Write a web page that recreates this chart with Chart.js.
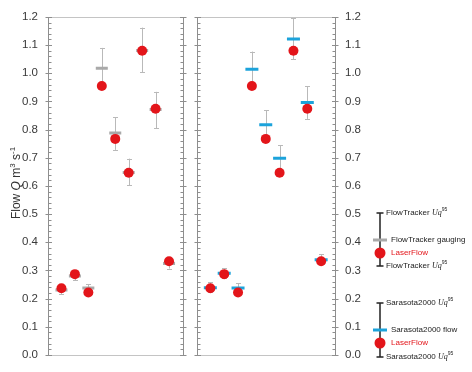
<!DOCTYPE html>
<html><head><meta charset="utf-8">
<script src="https://cdn.jsdelivr.net/npm/chart.js@4.4.0/dist/chart.umd.min.js"></script>
<style>
html,body{margin:0;padding:0;background:#fff;}
#wrap{position:relative;width:472px;height:372px;}
canvas{position:absolute;left:0;top:0;}
</style></head><body>
<div id="wrap"><canvas id="c1" width="472" height="372"></canvas><canvas id="c2" width="472" height="372"></canvas></div>
<script>
// ---- data ----
const positions = [1, 2, 3, 4, 5, 6, 7, 8, 9];
const laserFlow = [0.237, 0.287, 0.222, 0.955, 0.767, 0.647, 1.080, 0.874, 0.333];
const ftGauging = [0.231, 0.280, 0.238, 1.018, 0.788, 0.648, 1.081, 0.871, 0.325];
const ftUqLow   = [0.217, 0.265, 0.222, 0.960, 0.728, 0.603, 1.003, 0.805, 0.307];
const ftUqHigh  = [0.245, 0.296, 0.252, 1.090, 0.843, 0.697, 1.162, 0.934, 0.343];
const sarFlow   = [0.239, 0.290, 0.238, 1.014, 0.817, 0.698, 1.122, 0.896, 0.338];
const sarUqLow  = [0.222, 0.272, 0.222, 0.960, 0.770, 0.655, 1.050, 0.838, 0.322];
const sarUqHigh = [0.258, 0.308, 0.255, 1.077, 0.868, 0.744, 1.195, 0.954, 0.358];
const yTicks = [0.0, 0.1, 0.2, 0.3, 0.4, 0.5, 0.6, 0.7, 0.8, 0.9, 1.0, 1.1, 1.2];

const RED = '#e3151a', GREY = '#a9a9a9', BLUE = '#1ca3db', ERR = '#b9b9b9';
const FONT = "'Liberation Sans', Arial, sans-serif";

const pts = arr => positions.map((x, i) => ({x, y: arr[i]}));

function framePlugin() {
  return {
    id: 'frame',
    beforeDatasetsDraw(chart) {
      const {ctx, chartArea: {left, right, top, bottom}, scales: {y}} = chart;
      ctx.save();
      const L = Math.round(left) + 0.5, R = Math.round(right) + 0.5;
      const T = Math.round(top) + 0.5, B = Math.round(bottom) + 0.5;
      ctx.lineWidth = 1;
      ctx.strokeStyle = '#c4c4c4';
      ctx.beginPath();
      ctx.moveTo(L, T); ctx.lineTo(R, T);
      ctx.moveTo(L, B); ctx.lineTo(R, B);
      ctx.stroke();
      ctx.strokeStyle = '#8e8e8e';
      ctx.beginPath();
      ctx.moveTo(L, T); ctx.lineTo(L, B);
      ctx.moveTo(R, T); ctx.lineTo(R, B);
      for (let k = 0; k <= 60; k++) {
        const py = Math.round(y.getPixelForValue(k / 50)) + 0.5;
        if (k % 5 === 0) {
          ctx.moveTo(L - 3, py); ctx.lineTo(L + 3.5, py);
          ctx.moveTo(R - 3.5, py); ctx.lineTo(R + 3, py);
        } else {
          ctx.moveTo(L, py); ctx.lineTo(L + 3, py);
          ctx.moveTo(R - 3, py); ctx.lineTo(R, py);
        }
      }
      ctx.stroke();
      ctx.restore();
    }
  };
}

function errPlugin(low, high) {
  return {
    id: 'errbars',
    beforeDatasetsDraw(chart) {
      const {ctx, scales: {x, y}} = chart;
      ctx.save();
      ctx.strokeStyle = ERR; ctx.lineWidth = 1;
      ctx.beginPath();
      positions.forEach((p, i) => {
        const px = Math.round(x.getPixelForValue(p)) + 0.5;
        const y1 = y.getPixelForValue(low[i]), y2 = y.getPixelForValue(high[i]);
        ctx.moveTo(px, y1); ctx.lineTo(px, y2);
        ctx.moveTo(px - 2.5, Math.round(y1) + 0.5); ctx.lineTo(px + 2.5, Math.round(y1) + 0.5);
        ctx.moveTo(px - 2.5, Math.round(y2) + 0.5); ctx.lineTo(px + 2.5, Math.round(y2) + 0.5);
      });
      ctx.stroke();
      ctx.restore();
    }
  };
}

function drawRich(ctx, segs, x, y, align) {
  // segs: [text, font, dy, color]
  let w = 0;
  segs.forEach(s => { ctx.font = s[1]; w += ctx.measureText(s[0]).width; });
  let cx = align === 'center' ? x - w / 2 : x;
  segs.forEach(s => {
    ctx.font = s[1];
    ctx.fillStyle = s[3] || '#222';
    ctx.fillText(s[0], cx, y + (s[2] || 0));
    cx += ctx.measureText(s[0]).width;
  });
}

const titlePlugin = {
  id: 'ytitle',
  afterDraw(chart) {
    const ctx = chart.ctx;
    ctx.save();
    ctx.translate(20, 183);
    ctx.rotate(-Math.PI / 2);
    ctx.textBaseline = 'alphabetic';
    const n = '12px ' + FONT, it = 'italic 12px ' + FONT, sp = '8px ' + FONT;
    drawRich(ctx, [['Flow ', n, 0, '#333'], ['Q', it, 0, '#333'], [' m', n, 0, '#333'], ['3', sp, -5, '#333'], [' s', n, 0, '#333'], ['-1', sp, -5, '#333']], 0, 0, 'center');
    ctx.restore();
  }
};

const legendPlugin = {
  id: 'sideLegend',
  afterDraw(chart) {
    const ctx = chart.ctx;
    ctx.save();
    const n = '8px ' + FONT, it = "italic 8px 'Liberation Serif', serif", sp = '5px ' + FONT;
    ctx.textBaseline = 'middle';
    const uq = (name, x, y) => drawRich(ctx, [[name + ' ', n, 0], ['Uq', it, 0], ['95', sp, -3]], x, y, 'left');
    const group = (y0, y1, markY, markColor, redY, label, name) => {
      ctx.strokeStyle = '#222'; ctx.lineWidth = 1.5;
      ctx.beginPath();
      ctx.moveTo(380, y0); ctx.lineTo(380, y1);
      ctx.moveTo(376.5, y0); ctx.lineTo(383.5, y0);
      ctx.moveTo(376.5, y1); ctx.lineTo(383.5, y1);
      ctx.stroke();
      ctx.strokeStyle = markColor; ctx.lineWidth = 3;
      ctx.beginPath(); ctx.moveTo(373, markY); ctx.lineTo(387, markY); ctx.stroke();
      ctx.fillStyle = RED;
      ctx.beginPath(); ctx.arc(380, redY, 5.5, 0, Math.PI * 2); ctx.fill();
      uq(name, 386, y0);
      uq(name, 386, y1);
      drawRich(ctx, [[label, n, 0]], 391, markY, 'left');
      drawRich(ctx, [['LaserFlow', n, 0, RED]], 391, redY, 'left');
    };
    group(213, 266, 240, GREY, 253, 'FlowTracker gauging', 'FlowTracker');
    group(303, 357, 330, BLUE, 343, 'Sarasota2000 flow', 'Sarasota2000');
    ctx.restore();
  }
};

const yScale = (pos, width) => ({
  type: 'linear', position: pos, min: 0, max: 1.2,
  afterBuildTicks: s => { s.ticks = yTicks.map(v => ({value: v})); },
  ticks: {
    callback: v => v.toFixed(1),
    font: {family: FONT, size: 11.5}, color: '#3a3a3a', padding: 10
  },
  grid: {display: false, drawTicks: false},
  border: {display: false},
  afterFit: s => { s.width = width; }
});

const xScale = {type: 'linear', min: 0, max: 10, display: false};

const common = {
  responsive: false, animation: false, events: [],
  plugins: {legend: {display: false}, tooltip: {enabled: false}}
};

new Chart(document.getElementById('c1'), {
  type: 'scatter',
  data: {datasets: [
    {data: pts(laserFlow), pointStyle: 'circle', pointRadius: 5, backgroundColor: RED, borderColor: RED, borderWidth: 0},
    {data: pts(ftGauging), pointStyle: 'line', pointRadius: 6, borderColor: GREY, borderWidth: 3}
  ]},
  options: Object.assign({}, common, {
    layout: {padding: {left: 0, right: 472 - 182.5, top: 12, bottom: 372 - 355}},
    scales: {x: xScale, y: yScale('left', 48)}
  }),
  plugins: [framePlugin(), errPlugin(ftUqLow, ftUqHigh), titlePlugin]
});

new Chart(document.getElementById('c2'), {
  type: 'scatter',
  data: {datasets: [
    {data: pts(laserFlow), pointStyle: 'circle', pointRadius: 5, backgroundColor: RED, borderColor: RED, borderWidth: 0},
    {data: pts(sarFlow), pointStyle: 'line', pointRadius: 6.5, borderColor: BLUE, borderWidth: 3}
  ]},
  options: Object.assign({}, common, {
    layout: {padding: {left: 196.5, right: 0, top: 12, bottom: 372 - 355}},
    scales: {x: xScale, y: yScale('right', 472 - 335)}
  }),
  plugins: [framePlugin(), errPlugin(sarUqLow, sarUqHigh), legendPlugin]
});
</script>
</body></html>
